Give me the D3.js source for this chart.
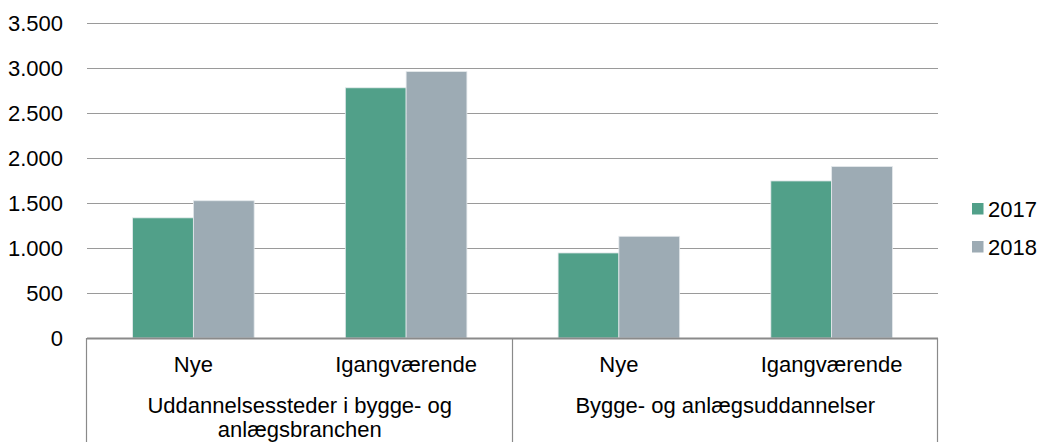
<!DOCTYPE html>
<html>
<head>
<meta charset="utf-8">
<script src="https://cdn.jsdelivr.net/npm/d3@7"></script>
<style>
  body { margin: 0; background: #fff; }
  svg { display: block; font-family: "Liberation Sans", Arial, sans-serif; }
</style>
</head>
<body>
<svg id="chart" width="1041" height="442"></svg>
<script>
// data
var groupLabels = [["Uddannelsessteder i bygge- og", "anlægsbranchen"], ["Bygge- og anlægsuddannelser"]];
var subLabels = ["Nye", "Igangværende"];
var seriesNames = ["2017", "2018"];
var values2017 = [1335, 2780, 945, 1745];
var values2018 = [1525, 2960, 1130, 1905];
var yTicks = [0, 500, 1000, 1500, 2000, 2500, 3000, 3500];

var colors = {"2017": "#51a089", "2018": "#9dabb4"};

// layout
var plotLeft = 87, plotRight = 938, plotTop = 23, plotBottom = 338;
var fontSize = "22px";

var svg = d3.select("#chart");

// leaf categories = group x sub
var leaves = [];
groupLabels.forEach(function(g, gi) {
  subLabels.forEach(function(s, si) {
    leaves.push({key: gi + "-" + si, group: gi, label: s});
  });
});
var data = leaves.map(function(d, i) {
  return {key: d.key, label: d.label, group: d.group, "2017": values2017[i], "2018": values2018[i]};
});

var x0 = d3.scaleBand()
    .domain(leaves.map(function(d) { return d.key; }))
    .range([plotLeft, plotRight])
    .padding(0);

var x1 = d3.scaleBand()
    .domain(seriesNames)
    .range([0, x0.bandwidth()])
    .paddingInner(0)
    .paddingOuter(0.75);

var y = d3.scaleLinear()
    .domain([0, 3500])
    .range([plotBottom, plotTop]);

var fmt = d3.formatLocale({decimal: ",", thousands: ".", grouping: [3], currency: ["", ""]}).format(",");

// y axis + gridlines
var yAxis = svg.append("g")
    .attr("transform", "translate(" + plotLeft + ",0)")
    .call(d3.axisLeft(y).tickValues(yTicks).tickFormat(fmt).tickSize(-(plotRight - plotLeft)).tickPadding(24));
yAxis.select(".domain").remove();
yAxis.selectAll(".tick line")
    .attr("stroke", "#9a9a9a")
    .attr("stroke-width", 1);
yAxis.selectAll(".tick text")
    .attr("fill", "#000")
    .style("font-size", fontSize)
    .style("font-family", "'Liberation Sans', Arial, sans-serif");

// bars
var grp = svg.append("g").selectAll("g")
    .data(data)
  .enter().append("g")
    .attr("transform", function(d) { return "translate(" + x0(d.key) + ",0)"; });

grp.selectAll("rect")
    .data(function(d) { return seriesNames.map(function(s) { return {s: s, v: d[s]}; }); })
  .enter().append("rect")
    .attr("x", function(d) { return x1(d.s); })
    .attr("width", x1.bandwidth())
    .attr("y", function(d) { return y(d.v); })
    .attr("height", function(d) { return y(0) - y(d.v); })
    .attr("fill", function(d) { return colors[d.s]; })
    .attr("stroke", "#e4e9ec")
    .attr("stroke-width", 0.8);

// category axis box
svg.append("line")
    .attr("x1", plotLeft).attr("x2", plotRight)
    .attr("y1", y(0) + 0.5).attr("y2", y(0) + 0.5)
    .attr("stroke", "#8a8a8a").attr("stroke-width", 2);

var groupEdges = [];
groupLabels.forEach(function(g, gi) {
  groupEdges.push(x0(gi + "-0"));
});
groupEdges.push(plotRight);
svg.selectAll(".sep")
    .data(groupEdges)
  .enter().append("line")
    .attr("class", "sep")
    .attr("x1", function(d) { return Math.round(d) - 0.5; })
    .attr("x2", function(d) { return Math.round(d) - 0.5; })
    .attr("y1", y(0))
    .attr("y2", 442)
    .attr("stroke", "#8a8a8a")
    .attr("stroke-width", 1.2);

// sub labels
svg.selectAll(".sub")
    .data(leaves)
  .enter().append("text")
    .attr("class", "sub")
    .attr("x", function(d) { return x0(d.key) + x0.bandwidth() / 2; })
    .attr("y", 372)
    .attr("text-anchor", "middle")
    .style("font-size", fontSize)
    .text(function(d) { return d.label; });

// group labels
var gl = svg.selectAll(".grp")
    .data(groupLabels)
  .enter().append("text")
    .attr("class", "grp")
    .attr("text-anchor", "middle")
    .style("font-size", fontSize)
    .attr("transform", function(d, i) {
      var a = x0(i + "-0"), b = x0(i + "-1") + x0.bandwidth();
      return "translate(" + ((a + b) / 2) + ",413)";
    });
gl.selectAll("tspan")
    .data(function(d) { return d; })
  .enter().append("tspan")
    .attr("x", 0)
    .attr("y", function(d, i) { return i * 24; })
    .text(function(d) { return d; });

// legend
var legend = svg.append("g").selectAll("g")
    .data(seriesNames)
  .enter().append("g")
    .attr("transform", function(d, i) { return "translate(972," + (203 + i * 38) + ")"; });
legend.append("rect")
    .attr("width", 11.5).attr("height", 11.5)
    .attr("fill", function(d) { return colors[d]; });
legend.append("text")
    .attr("x", 16)
    .attr("y", 13.5)
    .style("font-size", fontSize)
    .text(function(d) { return d; });
</script>
</body>
</html>
